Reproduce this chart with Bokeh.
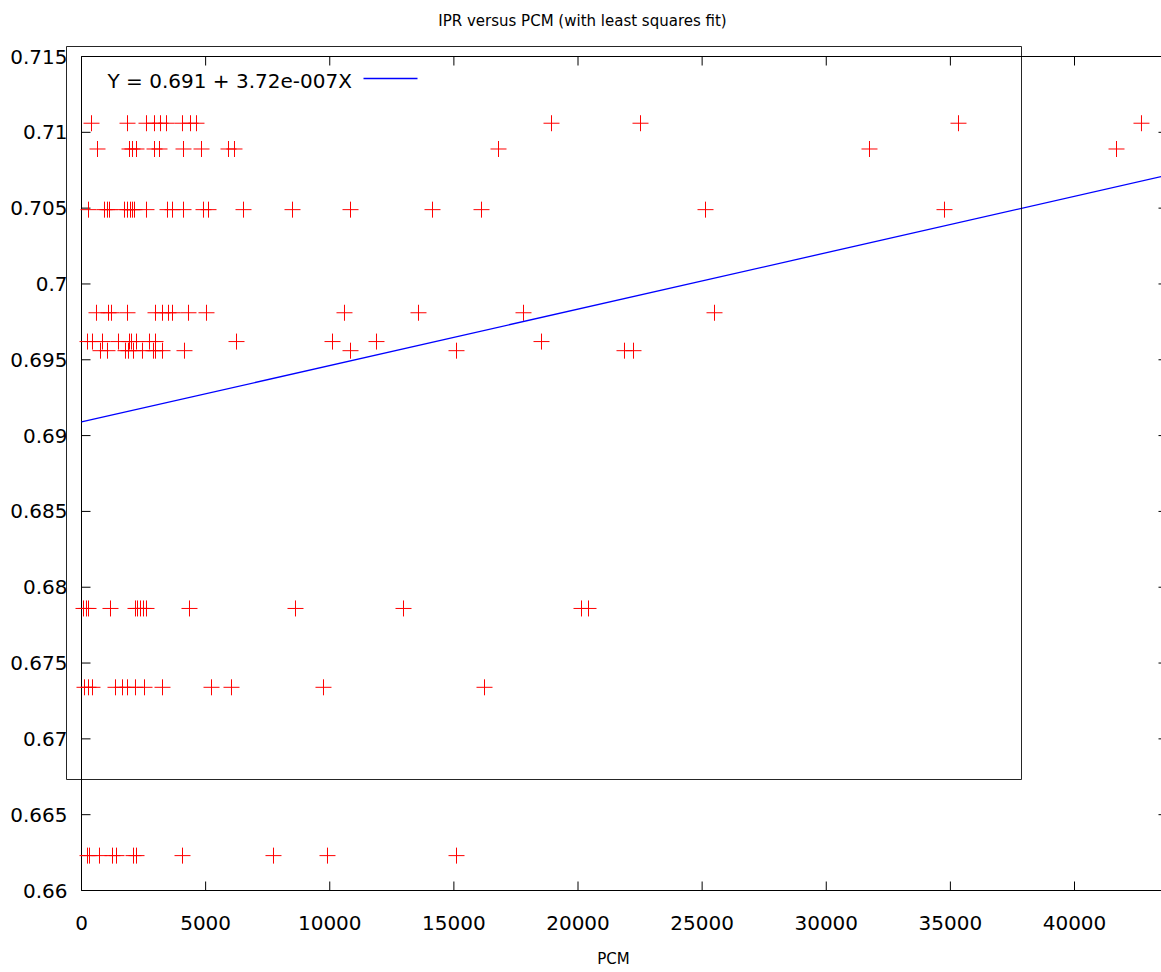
from bokeh.plotting import figure
from bokeh.models import Range1d, FixedTicker, Label, BoxAnnotation, ColumnDataSource
from bokeh.embed import file_html
from bokeh.resources import INLINE

# ---------------- data ----------------
ipr_levels = [0.7106, 0.7089, 0.7049, 0.6981, 0.6962, 0.6956, 0.6786, 0.6734, 0.6623]

pcm_0_7106 = [403, 1853, 2618, 2941, 3182, 3424, 4068, 4391, 4632, 18933, 22518, 35327, 42698]
pcm_0_7089 = [645, 1934, 2054, 2216, 2941, 3142, 4109, 4834, 5921, 6163, 16798, 31742, 41692]
pcm_0_7049 = [282, 926, 1047, 1128, 1732, 1853, 1974, 2054, 2135, 2618, 3464, 3666, 4109,
              4914, 5116, 6526, 8500, 10836, 14139, 16113, 25136, 34763]
pcm_0_6981 = [604, 1088, 1208, 1853, 2981, 3263, 3504, 3666, 4310, 5035, 10594, 13575, 17805, 25499]
pcm_0_6962 = [242, 443, 846, 1490, 1934, 2014, 2216, 2739, 2981, 6244, 10111, 11883, 18530]
pcm_0_6956 = [765, 1047, 1772, 1893, 2095, 2457, 2900, 2981, 3263, 4149, 10836, 15106, 21873, 22236]
pcm_0_6786 = [81, 201, 282, 1168, 2175, 2256, 2377, 2497, 2618, 4350, 8620, 12971, 20141, 20423]
pcm_0_6734 = [121, 282, 443, 1370, 1652, 1853, 2175, 2538, 3263, 5237, 6042, 9748, 16234]
pcm_0_6623 = [242, 322, 725, 1249, 1410, 2095, 2216, 4069, 7734, 9909, 15106]

pcm_rows = [pcm_0_7106, pcm_0_7089, pcm_0_7049, pcm_0_6981, pcm_0_6962,
            pcm_0_6956, pcm_0_6786, pcm_0_6734, pcm_0_6623]

fit_intercept = 0.6909
fit_slope = 3.72e-7
fit_label = "Y = 0.691 + 3.72e-007X"

x_ticks = [0, 5000, 10000, 15000, 20000, 25000, 30000, 35000, 40000]
x_tick_labels = ["0", "5000", "10000", "15000", "20000", "25000", "30000", "35000", "40000"]
y_ticks = [0.66, 0.665, 0.67, 0.675, 0.68, 0.685, 0.69, 0.695, 0.7, 0.705, 0.71, 0.715]
y_tick_labels = ["0.66", "0.665", "0.67", "0.675", "0.68", "0.685", "0.69", "0.695",
                 "0.7", "0.705", "0.71", "0.715"]

title_text = "IPR versus PCM (with least squares fit)"
x_title = "PCM"

# ---------------- layout (pixel geometry of the picture) ----------------
FONT = "DejaVu Sans"
FS_TICK = "20px"
FS_TITLE = "15px"
FS_XLABEL = "15px"
W, H = 1161, 972
AX_LEFT_PX, AX_TOP_PX, AX_BOTTOM_PX = 81, 56, 890     # gnuplot border
FRAME_LEFT, FRAME_BOTTOM = 65, 891                     # bokeh frame (covers key box too)
PX_PER_1000 = 24.825
Y0, Y1 = 0.66, 0.715
PX_PER_Y = (AX_BOTTOM_PX - AX_TOP_PX) / (Y1 - Y0)


def px_x(px):
    return (px - AX_LEFT_PX) * 1000.0 / PX_PER_1000


def px_y(py):
    return Y0 + (AX_BOTTOM_PX - py) / PX_PER_Y


xs, ys = [], []
for lvl, row in zip(ipr_levels, pcm_rows):
    xs.extend(row)
    ys.extend([lvl] * len(row))
pts = ColumnDataSource(dict(x=xs, y=ys))

p = figure(width=W, height=H, output_backend="svg", toolbar_location=None,
           x_range=Range1d(px_x(FRAME_LEFT), px_x(W)),
           y_range=Range1d(px_y(FRAME_BOTTOM), px_y(0)),
           min_border_left=FRAME_LEFT, min_border_top=0,
           min_border_bottom=H - FRAME_BOTTOM, min_border_right=0)
p.background_fill_color = "white"
p.border_fill_color = "white"
p.outline_line_color = None
p.xgrid.visible = False
p.ygrid.visible = False

for ax in (p.xaxis[0], p.yaxis[0]):
    ax.major_tick_line_color = None
    ax.minor_tick_line_color = None
    ax.axis_line_color = None
    ax.major_tick_in = 0
    ax.major_tick_out = 0
    ax.major_label_text_font = FONT
    ax.major_label_text_font_size = FS_TICK
    ax.major_label_text_color = "black"

p.xaxis.ticker = FixedTicker(ticks=x_ticks)
p.xaxis.major_label_overrides = dict(zip(x_ticks, x_tick_labels))
p.xaxis.major_label_standoff = 24
p.xaxis.axis_label = x_title
p.xaxis.axis_label_text_font = FONT
p.xaxis.axis_label_text_font_size = FS_XLABEL
p.xaxis.axis_label_text_font_style = "normal"
p.xaxis.axis_label_text_color = "black"
p.xaxis.axis_label_standoff = 17

p.yaxis.ticker = FixedTicker(ticks=y_ticks)
p.yaxis.major_label_overrides = dict(zip(y_ticks, y_tick_labels))
p.yaxis.major_label_standoff = -2

# ---- gnuplot style border and inward ticks ----
bx0, bx1 = px_x(AX_LEFT_PX), px_x(W + 10)
p.segment(x0=[bx0, bx0, bx0], y0=[Y0, Y1, Y0], x1=[bx1, bx1, bx0], y1=[Y0, Y1, Y1],
          line_color="black", line_width=1)
tick_len_x = px_x(AX_LEFT_PX + 9) - px_x(AX_LEFT_PX)
tick_len_y = px_y(AX_BOTTOM_PX - 9) - Y0
# left and right ticks
p.segment(x0=[bx0] * len(y_ticks), y0=y_ticks, x1=[bx0 + tick_len_x] * len(y_ticks), y1=y_ticks,
          line_color="black", line_width=1)
p.segment(x0=[px_x(1158)] * len(y_ticks), y0=y_ticks, x1=[bx1] * len(y_ticks), y1=y_ticks,
          line_color="black", line_width=1)
# bottom and top ticks
p.segment(x0=x_ticks, y0=[Y0] * len(x_ticks), x1=x_ticks, y1=[Y0 + tick_len_y] * len(x_ticks),
          line_color="black", line_width=1)
p.segment(x0=x_ticks, y0=[Y1] * len(x_ticks), x1=x_ticks, y1=[Y1 - tick_len_y] * len(x_ticks),
          line_color="black", line_width=1)

# data points
p.scatter("x", "y", source=pts, marker="cross", size=16, line_color="red", line_width=1)

# least squares line
fx = [0, px_x(W + 10)]
fy = [fit_intercept + fit_slope * v for v in fx]
p.line(fx, fy, line_color="blue", line_width=1.3)

# key: text then sample line
p.add_layout(Label(x=px_x(107), y=px_y(80), text=fit_label, text_font=FONT,
                   text_font_size=FS_TICK, text_align="left", text_baseline="middle",
                   text_color="black"))
p.line([px_x(363), px_x(417)], [px_y(78), px_y(78)], line_color="blue", line_width=1.3)

# key box frame
p.add_layout(BoxAnnotation(left=px_x(66), right=px_x(1021), top=px_y(46), bottom=px_y(779),
                           fill_alpha=0, fill_color=None, line_color="black", line_width=1,
                           line_alpha=0.85))

# title
p.add_layout(Label(x=px_x(582), y=px_y(20), text=title_text, text_font=FONT,
                   text_font_size=FS_TITLE, text_align="center", text_baseline="middle",
                   text_color="black"))

open("out.html", "w").write(file_html(p, INLINE))
